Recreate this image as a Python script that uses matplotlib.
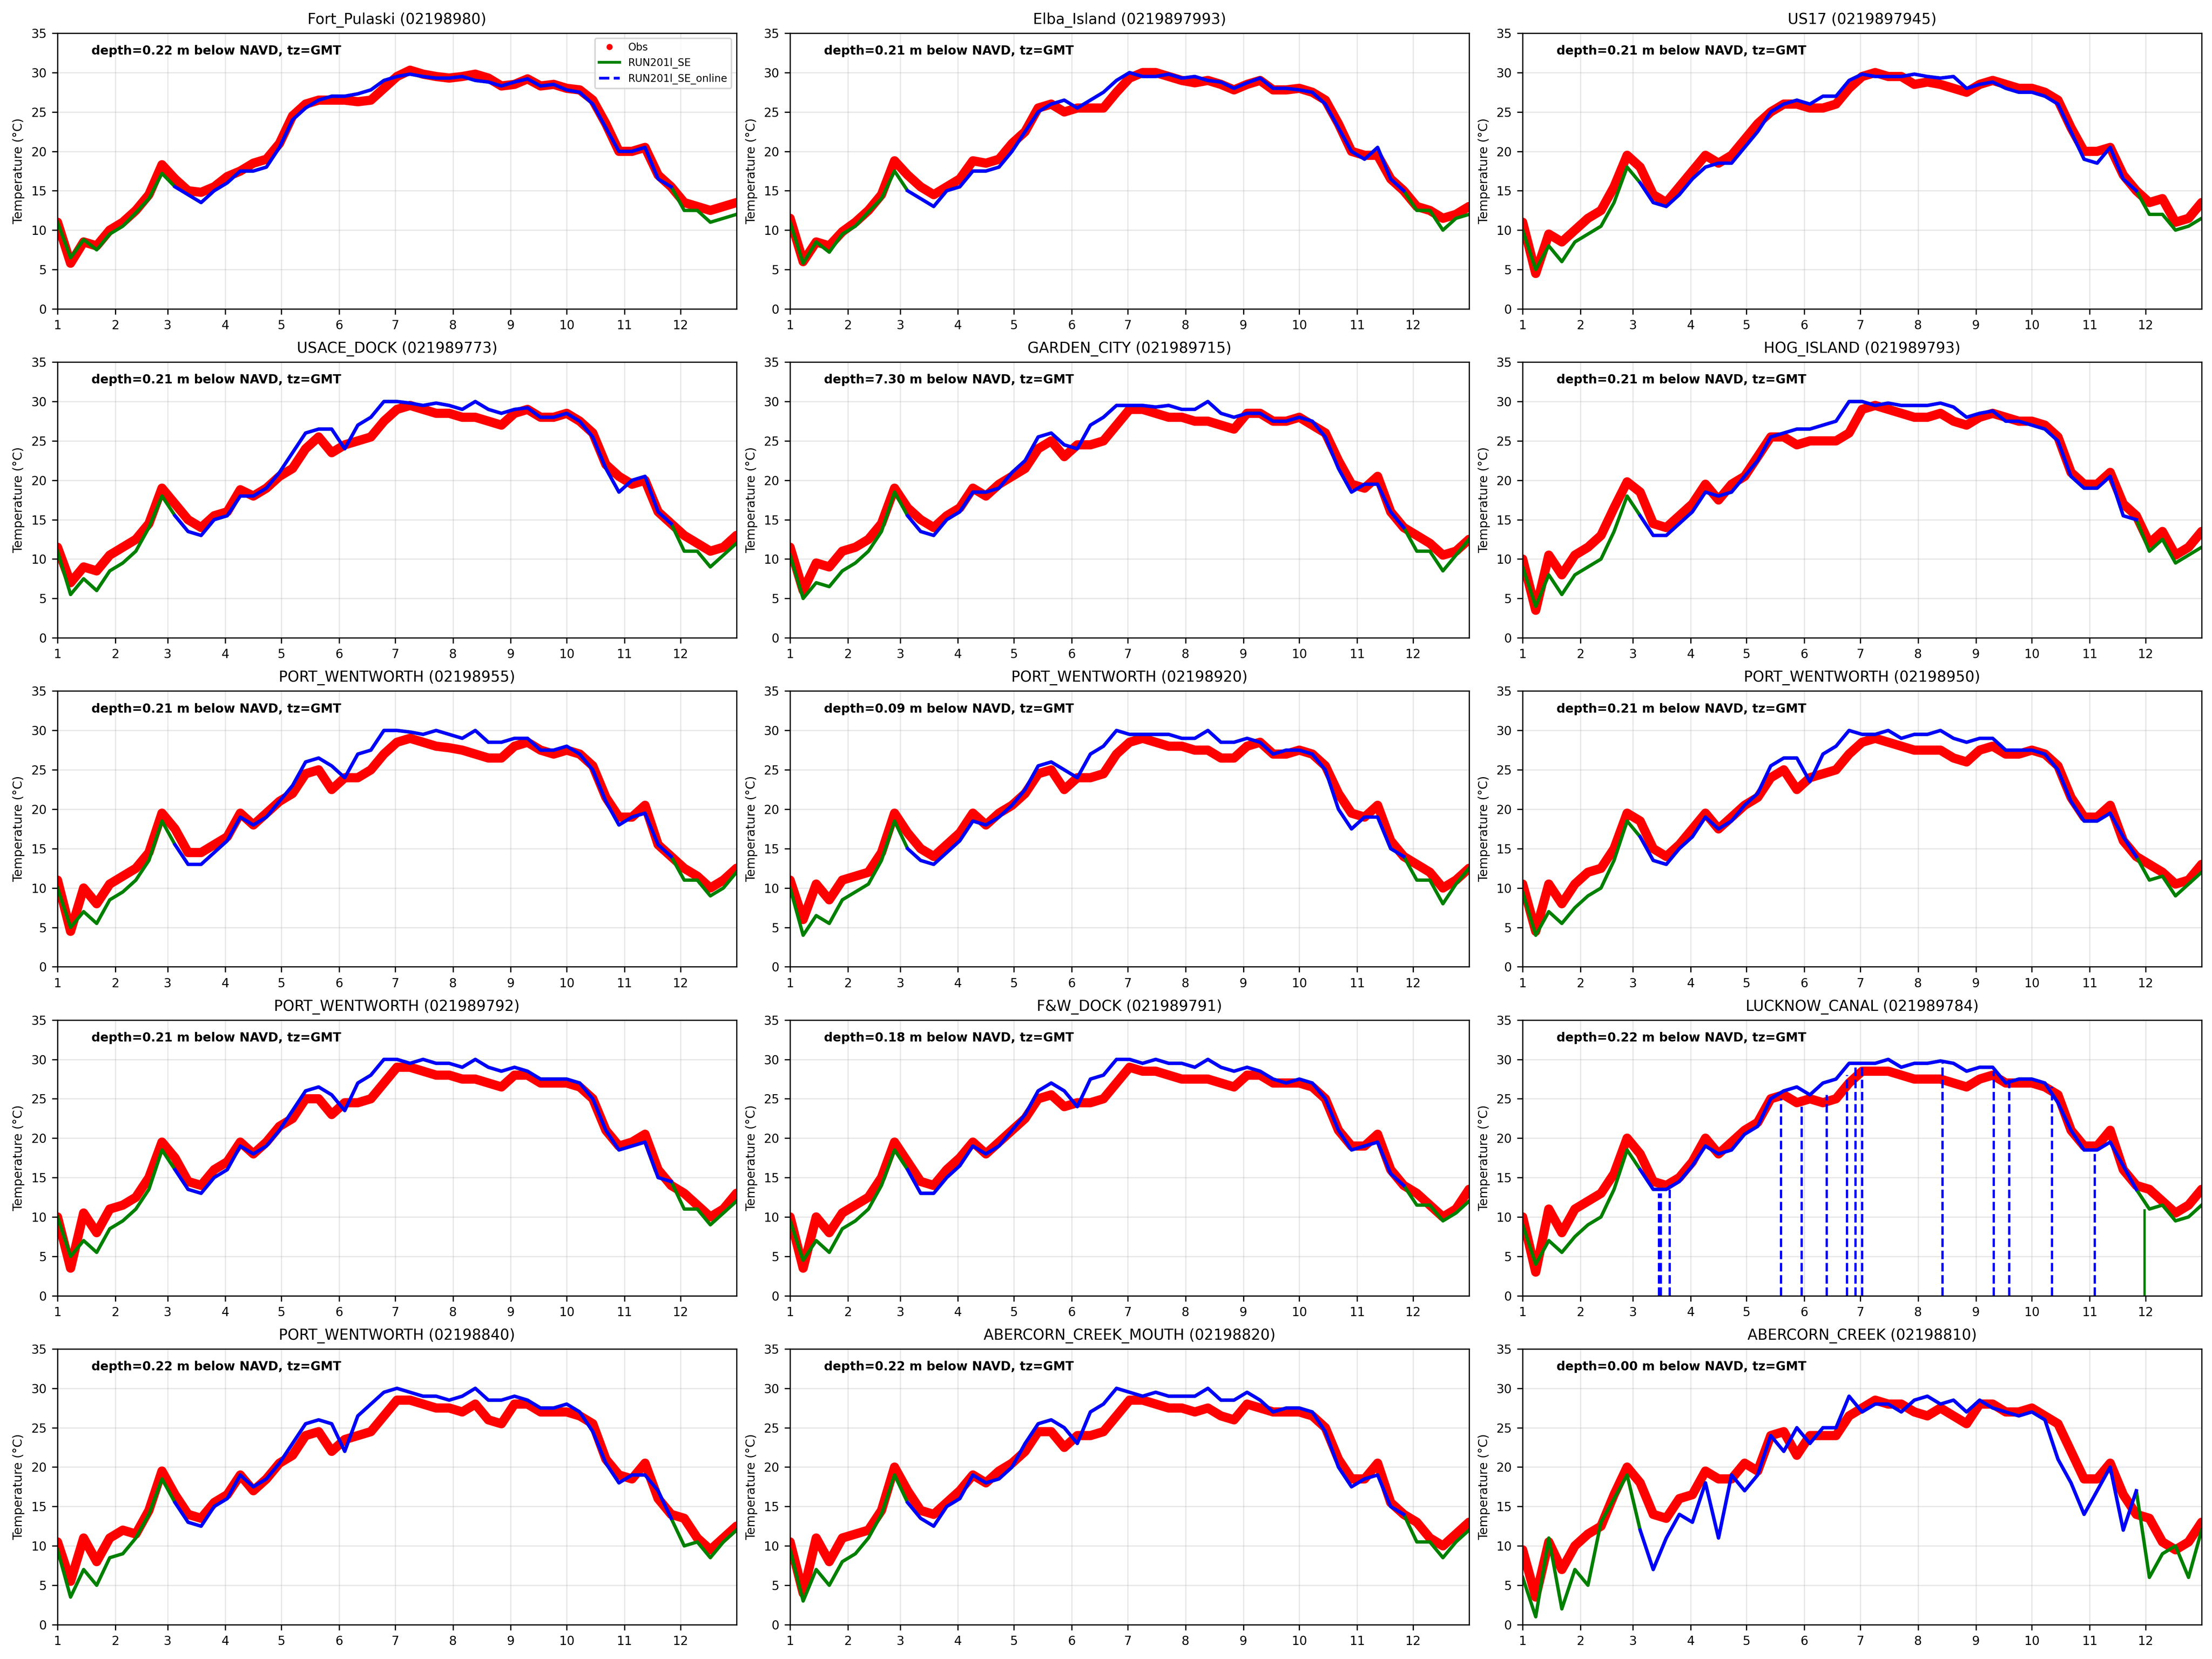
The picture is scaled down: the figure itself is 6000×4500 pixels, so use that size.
import numpy as np
import matplotlib
matplotlib.use('Agg')
import matplotlib.pyplot as plt
from matplotlib.lines import Line2D

plt.rcParams['font.size'] = 8

# weekly samples, day of year (0 = Jan 1)
days = np.arange(0, 365, 7)
month_start = [0, 31, 59, 90, 120, 151, 181, 212, 243, 273, 304, 334]
month_labels = ['1', '2', '3', '4', '5', '6', '7', '8', '9', '10', '11', '12']

stations = ['Fort_Pulaski (02198980)', 'Elba_Island (0219897993)', 'US17 (0219897945)',
            'USACE_DOCK (021989773)', 'GARDEN_CITY (021989715)', 'HOG_ISLAND (021989793)',
            'PORT_WENTWORTH (02198955)', 'PORT_WENTWORTH (02198920)', 'PORT_WENTWORTH (02198950)',
            'PORT_WENTWORTH (021989792)', 'F&W_DOCK (021989791)', 'LUCKNOW_CANAL (021989784)',
            'PORT_WENTWORTH (02198840)', 'ABERCORN_CREEK_MOUTH (02198820)', 'ABERCORN_CREEK (02198810)']
depths = [0.22, 0.21, 0.21, 0.21, 7.30, 0.21, 0.21, 0.09, 0.21, 0.21, 0.18, 0.22, 0.22, 0.22, 0.00]

# online run available only between these days
online_first_day = 60
online_last_day = 330

#observations and model, one pair per station
obs_fort = [11.0, 5.8, 8.5, 8.0, 10.0, 11.0, 12.5, 14.5, 18.3, 16.5, 15.0, 14.8, 15.5, 16.8, 17.5, 18.5, 19.0, 21.0,
            24.5, 26.0, 26.5, 26.5, 26.5, 26.3, 26.5, 28.0, 29.5, 30.3, 29.8, 29.5, 29.3, 29.5, 29.8, 29.3, 28.3, 28.5,
            29.2, 28.3, 28.5, 28.0, 27.8, 26.5, 23.5, 20.0, 20.0, 20.5, 17.0, 15.5, 13.5, 13.0, 12.5, 13.0, 13.5]
mod_fort = [11.0, 6.5, 8.8, 7.5, 9.5, 10.5, 12.2, 14.0, 17.2, 15.5, 14.5, 13.5, 15.0, 16.0, 17.5, 17.5, 18.0, 20.5,
            24.0, 25.5, 26.5, 27.0, 27.0, 27.3, 27.8, 29.0, 29.5, 29.8, 29.5, 29.3, 29.3, 29.5, 29.0, 28.8, 28.3, 28.8,
            29.2, 28.3, 28.5, 27.8, 27.5, 26.0, 23.0, 20.0, 20.0, 20.5, 16.5, 15.5, 12.5, 12.5, 11.0, 11.5, 12.0]

obs_elba = [11.5, 6.0, 8.5, 8.0, 9.8, 11.0, 12.5, 14.5, 18.8, 17.0, 15.5, 14.5, 15.5, 16.5, 18.8, 18.5, 19.0, 21.0,
            22.5, 25.5, 26.0, 25.0, 25.5, 25.5, 25.5, 27.5, 29.3, 30.0, 30.0, 29.5, 29.0, 28.7, 29.0, 28.5, 27.8, 28.5,
            29.0, 27.8, 27.8, 28.0, 27.5, 26.5, 23.5, 20.0, 19.5, 19.5, 16.5, 15.0, 13.0, 12.5, 11.5, 12.0, 13.0]
mod_elba = [11.0, 5.8, 8.5, 7.2, 9.5, 10.5, 12.3, 14.0, 17.5, 15.0, 14.0, 13.0, 15.0, 15.5, 17.5, 17.5, 18.0, 20.0,
            22.5, 25.0, 26.0, 26.5, 25.5, 26.5, 27.5, 29.0, 30.0, 29.5, 29.5, 29.8, 29.3, 29.5, 29.0, 28.8, 28.0, 28.7,
            29.3, 28.0, 28.0, 27.8, 27.5, 26.0, 23.0, 20.0, 19.0, 20.5, 16.5, 15.0, 12.5, 12.5, 10.0, 11.5, 12.0]

obs_us17 = [11.0, 4.5, 9.5, 8.5, 10.0, 11.5, 12.5, 15.5, 19.5, 18.0, 14.5, 13.5, 15.5, 17.5, 19.5, 18.5, 19.5, 21.5,
            23.5, 25.0, 26.0, 26.0, 25.5, 25.5, 26.0, 28.0, 29.5, 30.0, 29.5, 29.5, 28.5, 28.8, 28.5, 28.0, 27.5, 28.5,
            29.0, 28.5, 28.0, 28.0, 27.5, 26.5, 23.0, 20.0, 20.0, 20.5, 17.0, 15.0, 13.5, 14.0, 11.0, 11.5, 13.5]
mod_us17 = [10.0, 5.0, 8.0, 6.0, 8.5, 9.5, 10.5, 13.5, 18.0, 16.0, 13.5, 13.0, 14.5, 16.5, 18.0, 18.5, 18.5, 20.5,
            22.5, 25.0, 26.0, 26.5, 26.0, 27.0, 27.0, 29.0, 29.8, 29.5, 29.5, 29.5, 29.8, 29.5, 29.3, 29.5, 28.0, 28.5,
            28.8, 28.0, 27.5, 27.5, 27.0, 26.0, 22.5, 19.0, 18.5, 20.5, 16.5, 15.0, 12.0, 12.0, 10.0, 10.5, 11.5]

obs_usace = [11.5, 7.0, 9.0, 8.5, 10.5, 11.5, 12.5, 14.5, 19.0, 17.0, 15.0, 14.0, 15.5, 16.0, 18.8, 18.0, 19.0, 20.5,
             21.5, 24.0, 25.5, 23.5, 24.5, 25.0, 25.5, 27.5, 29.0, 29.5, 29.0, 28.5, 28.5, 28.0, 28.0, 27.5, 27.0, 28.5,
             29.0, 28.0, 28.0, 28.5, 27.5, 26.0, 22.0, 20.5, 19.5, 20.0, 16.0, 14.5, 13.0, 12.0, 11.0, 11.5, 13.0]
mod_usace = [11.0, 5.5, 7.5, 6.0, 8.5, 9.5, 11.0, 14.0, 18.0, 15.5, 13.5, 13.0, 15.0, 15.5, 18.0, 18.0, 19.0, 21.0,
             23.5, 26.0, 26.5, 26.5, 24.0, 27.0, 28.0, 30.0, 30.0, 29.8, 29.5, 29.8, 29.5, 29.0, 30.0, 29.0, 28.5, 29.0,
             29.2, 28.0, 28.0, 28.5, 27.5, 25.5, 21.5, 18.5, 20.0, 20.5, 16.0, 14.5, 11.0, 11.0, 9.0, 10.5, 12.0]

obs_garden = [11.5, 6.0, 9.5, 9.0, 11.0, 11.5, 12.5, 14.5, 19.0, 16.5, 15.0, 14.0, 15.5, 16.5, 19.0, 18.0, 19.5, 20.5,
              21.5, 24.0, 25.0, 23.0, 24.5, 24.5, 25.0, 27.0, 29.0, 29.0, 28.5, 28.0, 28.0, 27.5, 27.5, 27.0, 26.5, 28.5,
              28.5, 27.5, 27.5, 28.0, 27.0, 26.0, 22.5, 19.5, 19.0, 20.5, 16.0, 14.0, 13.0, 12.0, 10.5, 11.0, 12.5]
mod_garden = [10.5, 5.0, 7.0, 6.5, 8.5, 9.5, 11.0, 13.5, 18.5, 15.5, 13.5, 13.0, 15.0, 16.0, 18.5, 18.5, 19.0, 21.0,
              22.5, 25.5, 26.0, 24.5, 24.0, 27.0, 28.0, 29.5, 29.5, 29.5, 29.3, 29.5, 29.0, 29.0, 30.0, 28.5, 28.0, 28.5,
              28.5, 27.5, 27.5, 28.0, 27.5, 25.5, 21.5, 18.5, 19.5, 19.5, 16.0, 14.0, 11.0, 11.0, 8.5, 10.5, 12.5]

obs_hog = [10.0, 3.5, 10.5, 8.0, 10.5, 11.5, 13.0, 16.5, 19.8, 18.5, 14.5, 14.0, 15.5, 17.0, 19.5, 17.5, 19.5, 20.5,
           23.0, 25.5, 25.5, 24.5, 25.0, 25.0, 25.0, 26.0, 29.0, 29.5, 29.0, 28.5, 28.0, 28.0, 28.5, 27.5, 27.0, 28.0,
           28.5, 28.0, 27.5, 27.5, 27.0, 25.5, 21.0, 19.5, 19.5, 21.0, 17.0, 15.5, 12.0, 13.5, 10.5, 11.5, 13.5]
mod_hog = [9.0, 4.0, 8.0, 5.5, 8.0, 9.0, 10.0, 13.5, 18.0, 15.5, 13.0, 13.0, 14.5, 16.0, 18.5, 18.0, 18.5, 20.5,
           22.5, 25.5, 26.0, 26.5, 26.5, 27.0, 27.5, 30.0, 30.0, 29.5, 29.8, 29.5, 29.5, 29.5, 29.8, 29.3, 28.0, 28.5,
           28.8, 27.5, 27.5, 27.0, 26.5, 25.0, 20.5, 19.0, 19.0, 20.5, 15.5, 15.0, 11.0, 12.5, 9.5, 10.5, 11.5]

obs_pw955 = [11.0, 4.5, 10.0, 8.0, 10.5, 11.5, 12.5, 14.5, 19.5, 17.5, 14.5, 14.5, 15.5, 16.5, 19.5, 18.0, 19.5, 21.0,
             22.0, 24.5, 25.0, 22.5, 24.0, 24.0, 25.0, 27.0, 28.5, 29.0, 28.5, 28.0, 27.8, 27.5, 27.0, 26.5, 26.5, 28.0,
             28.5, 27.5, 27.0, 27.5, 27.0, 25.5, 21.5, 19.0, 19.0, 20.5, 15.5, 14.0, 12.5, 11.5, 10.0, 11.0, 12.5]
mod_pw955 = [10.0, 5.0, 7.0, 5.5, 8.5, 9.5, 11.0, 13.5, 18.5, 15.5, 13.0, 13.0, 14.5, 16.0, 19.0, 18.0, 19.0, 21.0,
             23.0, 26.0, 26.5, 25.5, 24.0, 27.0, 27.5, 30.0, 30.0, 29.8, 29.5, 30.0, 29.5, 29.0, 30.0, 28.5, 28.5, 29.0,
             29.0, 27.5, 27.5, 28.0, 27.0, 25.0, 21.0, 18.0, 19.0, 19.5, 15.5, 14.0, 11.0, 11.0, 9.0, 10.0, 12.0]

obs_pw920 = [11.0, 6.0, 10.5, 8.5, 11.0, 11.5, 12.0, 14.5, 19.5, 17.0, 15.0, 14.0, 15.5, 17.0, 19.5, 18.0, 19.5, 20.5,
             22.0, 24.5, 25.0, 22.5, 24.0, 24.0, 24.5, 27.0, 28.5, 29.0, 28.5, 28.0, 28.0, 27.5, 27.5, 26.5, 26.5, 28.0,
             28.5, 27.0, 27.0, 27.5, 27.0, 25.5, 22.0, 19.5, 19.0, 20.5, 16.0, 14.0, 13.0, 12.0, 10.0, 11.0, 12.5]
mod_pw920 = [10.0, 4.0, 6.5, 5.5, 8.5, 9.5, 10.5, 13.5, 18.5, 15.0, 13.5, 13.0, 14.5, 16.0, 18.5, 18.0, 19.0, 20.5,
             22.5, 25.5, 26.0, 25.0, 24.0, 27.0, 28.0, 30.0, 29.5, 29.5, 29.5, 29.5, 29.0, 29.0, 30.0, 28.5, 28.5, 29.0,
             28.5, 27.0, 27.5, 27.5, 27.0, 25.0, 20.0, 17.5, 19.0, 19.0, 15.0, 14.0, 11.0, 11.0, 8.0, 10.5, 12.5]

obs_pw950 = [10.5, 4.5, 10.5, 8.0, 10.5, 12.0, 12.5, 15.0, 19.5, 18.5, 15.0, 14.0, 15.5, 17.5, 19.5, 17.5, 19.0, 20.5,
             21.5, 24.0, 25.0, 22.5, 24.0, 24.5, 25.0, 27.0, 28.5, 29.0, 28.5, 28.0, 27.5, 27.5, 27.5, 26.5, 26.0, 27.5,
             28.0, 27.0, 27.0, 27.5, 27.0, 25.5, 21.5, 19.0, 19.0, 20.5, 16.0, 14.0, 13.0, 12.0, 10.5, 11.0, 13.0]
mod_pw950 = [9.5, 4.0, 7.0, 5.5, 7.5, 9.0, 10.0, 13.5, 18.5, 16.5, 13.5, 13.0, 15.0, 16.5, 19.0, 17.5, 18.5, 20.5,
             22.0, 25.5, 26.5, 26.5, 23.5, 27.0, 28.0, 30.0, 29.5, 29.5, 30.0, 29.0, 29.5, 29.5, 30.0, 29.0, 28.5, 29.0,
             29.0, 27.5, 27.5, 27.5, 27.0, 25.0, 21.0, 18.5, 18.5, 19.5, 16.5, 14.0, 11.0, 11.5, 9.0, 10.5, 12.0]

obs_pw792 = [10.0, 3.5, 10.5, 8.0, 11.0, 11.5, 12.5, 15.0, 19.5, 17.5, 14.5, 14.0, 16.0, 17.0, 19.5, 18.0, 19.5, 21.5,
             22.5, 25.0, 25.0, 23.0, 24.5, 24.5, 25.0, 27.0, 29.0, 29.0, 28.5, 28.0, 28.0, 27.5, 27.5, 27.0, 26.5, 28.0,
             28.0, 27.0, 27.0, 27.0, 26.5, 25.0, 21.0, 19.0, 19.5, 20.5, 16.0, 14.0, 13.0, 11.5, 10.0, 11.0, 13.0]
mod_pw792 = [10.0, 5.0, 7.0, 5.5, 8.5, 9.5, 11.0, 13.5, 18.5, 16.0, 13.5, 13.0, 15.0, 16.0, 19.0, 18.0, 19.0, 21.0,
             23.5, 26.0, 26.5, 25.5, 23.5, 27.0, 28.0, 30.0, 30.0, 29.5, 30.0, 29.5, 29.5, 29.0, 30.0, 29.0, 28.5, 29.0,
             28.5, 27.5, 27.5, 27.5, 27.0, 25.0, 21.0, 18.5, 19.0, 19.5, 15.0, 14.5, 11.0, 11.0, 9.0, 10.5, 12.0]

obs_fw = [10.0, 3.5, 10.0, 8.0, 10.5, 11.5, 12.5, 15.0, 19.5, 17.0, 14.5, 14.0, 16.0, 17.5, 19.5, 18.0, 19.5, 21.0,
          22.5, 25.0, 25.5, 24.0, 24.5, 24.5, 25.0, 27.0, 29.0, 28.5, 28.5, 28.0, 27.5, 27.5, 27.5, 27.0, 26.5, 28.0,
          28.0, 27.0, 27.0, 27.0, 26.5, 25.0, 21.0, 19.0, 19.0, 20.5, 16.0, 14.0, 13.0, 11.5, 10.0, 11.0, 13.5]
mod_fw = [9.5, 4.5, 7.0, 5.5, 8.5, 9.5, 11.0, 14.0, 18.5, 16.0, 13.0, 13.0, 15.0, 16.5, 19.0, 18.0, 19.0, 21.0,
          23.0, 26.0, 27.0, 26.0, 24.0, 27.5, 28.0, 30.0, 30.0, 29.5, 30.0, 29.5, 29.5, 29.0, 30.0, 29.0, 28.5, 29.0,
          28.5, 27.5, 27.0, 27.5, 27.0, 25.0, 21.0, 18.5, 19.0, 19.5, 15.5, 14.0, 11.5, 11.5, 9.5, 10.5, 12.0]

obs_lucknow = [10.0, 3.0, 11.0, 8.0, 11.0, 12.0, 13.0, 15.5, 20.0, 18.0, 14.5, 14.0, 15.0, 17.0, 20.0, 18.0, 19.5, 21.0,
               22.0, 25.0, 25.5, 24.5, 25.0, 24.5, 25.0, 27.0, 28.5, 28.5, 28.5, 28.0, 27.5, 27.5, 27.5, 27.0, 26.5, 27.5,
               28.0, 27.0, 27.0, 27.0, 26.5, 25.5, 21.0, 19.0, 19.0, 21.0, 16.0, 14.0, 13.5, 12.0, 10.5, 11.5, 13.5]
mod_lucknow = [9.0, 4.0, 7.0, 5.5, 7.5, 9.0, 10.0, 13.5, 18.5, 16.0, 13.5, 13.5, 14.5, 16.5, 19.0, 18.0, 18.5, 20.5,
               21.5, 25.0, 26.0, 26.5, 25.5, 27.0, 27.5, 29.5, 29.5, 29.5, 30.0, 29.0, 29.5, 29.5, 29.8, 29.5, 28.5, 29.0,
               29.0, 27.0, 27.5, 27.5, 27.0, 24.5, 21.0, 18.5, 18.5, 19.5, 16.5, 13.5, 11.0, 11.5, 9.5, 10.0, 11.5]
# gaps in the online run at LUCKNOW_CANAL drop to zero
lucknow_drop_days = [73.1, 74.1, 78.9, 138.5, 149.6, 163.1, 173.9, 178.4, 182.0, 225.0, 252.5, 260.8, 283.7, 306.8]
lucknow_drop_tops = [13.0, 13.0, 14.0, 25.0, 24.0, 25.5, 28.0, 29.0, 29.5, 29.5, 28.5, 27.5, 26.5, 18.0]
lucknow_mod_drop_day = 333.5
lucknow_mod_drop_top = 11.0

obs_pw840 = [10.5, 5.5, 11.0, 8.0, 11.0, 12.0, 11.5, 14.5, 19.5, 16.5, 14.0, 13.5, 15.5, 16.5, 19.0, 17.0, 18.5, 20.5,
             21.5, 24.0, 24.5, 22.0, 23.5, 24.0, 24.5, 26.5, 28.5, 28.5, 28.0, 27.5, 27.5, 27.0, 28.0, 26.0, 25.5, 28.0,
             28.0, 27.0, 27.0, 27.0, 26.5, 25.5, 21.0, 19.0, 18.5, 20.5, 16.0, 14.0, 13.5, 11.0, 9.5, 11.0, 12.5]
mod_pw840 = [9.5, 3.5, 7.0, 5.0, 8.5, 9.0, 11.0, 14.0, 18.5, 15.5, 13.0, 12.5, 15.0, 16.0, 19.0, 17.5, 18.5, 20.5,
             23.0, 25.5, 26.0, 25.5, 22.0, 26.5, 28.0, 29.5, 30.0, 29.5, 29.0, 29.0, 28.5, 29.0, 30.0, 28.5, 28.5, 29.0,
             28.5, 27.5, 27.5, 28.0, 27.0, 24.5, 20.5, 18.0, 19.0, 19.0, 17.0, 13.5, 10.0, 10.5, 8.5, 10.5, 12.0]

obs_acmouth = [10.5, 4.0, 11.0, 8.0, 11.0, 11.5, 12.0, 14.5, 20.0, 17.0, 14.5, 14.0, 15.5, 17.0, 19.0, 18.0, 19.5, 20.5,
               22.0, 24.5, 24.5, 22.5, 24.0, 24.0, 24.5, 26.5, 28.5, 28.5, 28.0, 27.5, 27.5, 27.0, 27.5, 26.5, 26.0, 28.0,
               27.5, 27.0, 27.0, 27.0, 26.5, 25.0, 21.0, 18.5, 18.5, 20.5, 15.5, 14.0, 13.0, 11.0, 10.0, 11.5, 13.0]
mod_acmouth = [9.5, 3.0, 7.0, 5.0, 8.0, 9.0, 11.0, 14.0, 19.0, 15.5, 13.5, 12.5, 15.0, 16.0, 19.0, 18.0, 18.5, 20.0,
               23.0, 25.5, 26.0, 25.0, 23.0, 27.0, 28.0, 30.0, 29.5, 29.0, 29.5, 29.0, 29.0, 29.0, 30.0, 28.5, 28.5, 29.5,
               28.5, 27.0, 27.5, 27.5, 27.0, 24.5, 20.0, 17.5, 18.5, 19.0, 15.0, 14.0, 10.5, 10.5, 8.5, 10.5, 12.0]

obs_abercorn = [9.5, 3.5, 10.5, 7.0, 10.0, 11.5, 12.5, 16.5, 20.0, 18.0, 14.0, 13.5, 16.0, 16.5, 19.5, 18.5, 18.5, 20.5,
                19.5, 24.0, 24.5, 21.5, 24.0, 24.0, 24.0, 26.5, 27.5, 28.5, 28.0, 28.0, 27.0, 26.5, 27.5, 26.5, 25.5, 28.0,
                28.0, 27.0, 27.0, 27.5, 26.5, 25.5, 22.0, 18.5, 18.5, 20.5, 16.5, 14.0, 13.5, 10.5, 9.5, 10.5, 13.0]
mod_abercorn = [6.0, 1.0, 11.0, 2.0, 7.0, 5.0, 13.0, 16.0, 19.0, 12.0, 7.0, 11.0, 14.0, 13.0, 18.0, 11.0, 19.0, 17.0,
                19.0, 24.0, 22.0, 25.0, 23.0, 25.0, 25.0, 29.0, 27.0, 28.0, 28.0, 27.0, 28.5, 29.0, 28.0, 28.5, 27.0, 28.5,
                27.5, 27.0, 26.5, 27.0, 26.0, 21.0, 18.0, 14.0, 17.0, 20.0, 12.0, 17.0, 6.0, 9.0, 10.0, 6.0, 12.0]

obs_all = [obs_fort, obs_elba, obs_us17, obs_usace, obs_garden, obs_hog, obs_pw955, obs_pw920, obs_pw950,
           obs_pw792, obs_fw, obs_lucknow, obs_pw840, obs_acmouth, obs_abercorn]
mod_all = [mod_fort, mod_elba, mod_us17, mod_usace, mod_garden, mod_hog, mod_pw955, mod_pw920, mod_pw950,
           mod_pw792, mod_fw, mod_lucknow, mod_pw840, mod_acmouth, mod_abercorn]

online = (days >= online_first_day) & (days <= online_last_day)

fig, axes = plt.subplots(5, 3, figsize=(20, 15))
plt.subplots_adjust(left=0.026, right=0.9953, top=0.980, bottom=0.0207, wspace=0.079, hspace=0.193)

for i, ax in enumerate(axes.flat):
    obs = np.array(obs_all[i])
    mod = np.array(mod_all[i])
    ax.plot(days, obs, color='red', lw=6, solid_joinstyle='round', solid_capstyle='round')
    ax.plot(days, mod, color='green', lw=2.2)
    ax.plot(days[online], mod[online], color='blue', lw=2.2)
    if stations[i].startswith('LUCKNOW'):
        ax.vlines(lucknow_drop_days, 0, lucknow_drop_tops, colors='blue', linestyles='--', lw=1.5)
        ax.vlines(lucknow_mod_drop_day, 0, lucknow_mod_drop_top, colors='green', lw=1.5)

    ax.set_title(stations[i], fontsize=9.6)
    ax.set_ylabel('Temperature (°C)')
    ax.set_xlim(0, 364)
    ax.set_ylim(0, 35)
    ax.set_yticks(range(0, 36, 5))
    ax.set_xticks(month_start)
    ax.set_xticklabels(month_labels)
    ax.grid(True, alpha=0.3)
    ax.text(0.05, 0.935, 'depth=%.2f m below NAVD, tz=GMT' % depths[i], transform=ax.transAxes,
            fontsize=8, fontweight='bold', va='center')

    if i == 0:
        handles = [Line2D([], [], color='red', marker='.', ls='none', markersize=6),
                   Line2D([], [], color='green', lw=1.8),
                   Line2D([], [], color='blue', lw=1.8, ls='--')]
        ax.legend(handles, ['Obs', 'RUN201l_SE', 'RUN201l_SE_online'], loc='upper right', fontsize=6.7)

plt.savefig('out.png', dpi=300)
